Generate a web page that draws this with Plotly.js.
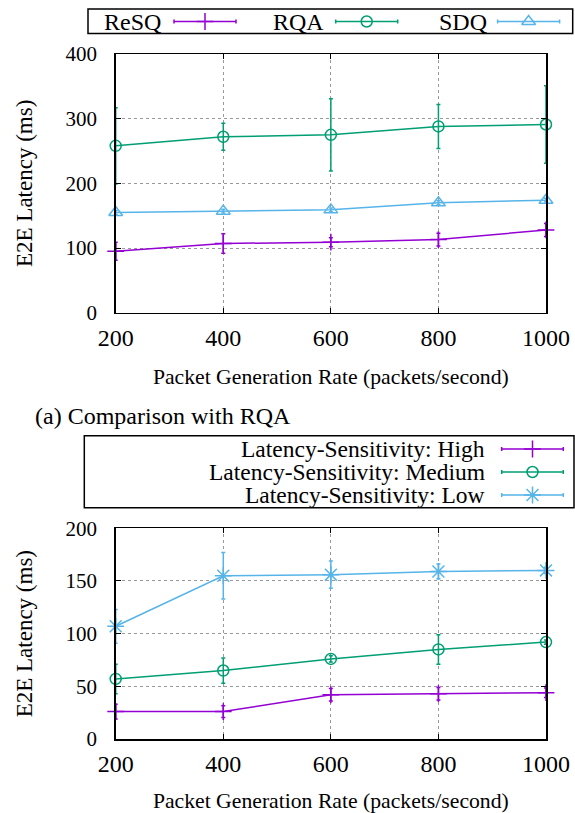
<!DOCTYPE html>
<html>
<head>
<meta charset="utf-8">
<script src="https://cdn.plot.ly/plotly-3.0.1.min.js"></script>
<style>html,body{margin:0;padding:0;background:#fff;}#chart{width:575px;height:813px;}</style>
</head>
<body>
<div id="chart"></div>
<script>
// ---- data ----
const rates = [200, 400, 600, 800, 1000];
const xTickLabels = ['200', '400', '600', '800', '1000'];

// (a) Comparison with RQA
const resqLatency = [95, 107, 109, 113, 128];
const resqErr = [14, 15, 7, 10, 10];
const rqaLatency = [258, 272, 275, 288, 291];
const rqaErr = [59, 21, 56, 34, 60];
const sdqLatency = [155, 157, 159, 170, 174];
const sdqErr = [3, 3, 3, 3, 3];

// (b) Latency sensitivity
const highLatency = [26, 26, 42, 43, 44];
const highErr = [7, 5.5, 6, 6, 4.5];
const mediumLatency = [57, 65, 76, 85, 92];
const mediumErr = [14, 12, 3, 14, 2];
const lowLatency = [107, 155, 156, 159, 160];
const lowErr = [16, 22, 13, 7, 3];

const topNames = ['ReSQ', 'RQA', 'SDQ'];
const bottomNames = ['Latency-Sensitivity: High', 'Latency-Sensitivity: Medium', 'Latency-Sensitivity: Low'];

// ---- styles ----
const W = 575, H = 813;
const PURPLE = '#9400d3', GREEN = '#009e73', BLUE = '#56b4e9';
const FONT = 'Liberation Serif, Times New Roman, serif';

function series(x, y, err, color, symbol, size, xa, ya, name) {
  return {
    type: 'scatter', mode: 'lines+markers', x: x, y: y, name: name,
    xaxis: xa, yaxis: ya, showlegend: false, cliponaxis: false,
    line: {color: color, width: 1.5},
    marker: {symbol: symbol, size: size, color: color, line: {color: color, width: 1.5}},
    error_y: {type: 'data', array: err, visible: true, color: color, thickness: 1.5, width: 2}
  };
}

const traces = [
  series(rates, rqaLatency, rqaErr, GREEN, 'circle-open', 11, 'x', 'y', topNames[1]),
  series(rates, sdqLatency, sdqErr, BLUE, 'triangle-up-open', 12, 'x', 'y', topNames[2]),
  series(rates, resqLatency, resqErr, PURPLE, 'cross-thin-open', 12, 'x', 'y', topNames[0]),
  series(rates, lowLatency, lowErr, BLUE, 'asterisk-open', 14, 'x2', 'y2', bottomNames[2]),
  series(rates, mediumLatency, mediumErr, GREEN, 'circle-open', 11, 'x2', 'y2', bottomNames[1]),
  series(rates, highLatency, highErr, PURPLE, 'cross-thin-open', 12, 'x2', 'y2', bottomNames[0])
];

// legend samples (overlay axis in pixel units)
function sample(cx, cy, half, color, symbol, size) {
  return {
    type: 'scatter', mode: 'markers', x: [cx], y: [cy], xaxis: 'x3', yaxis: 'y3',
    showlegend: false, hoverinfo: 'skip', cliponaxis: false,
    marker: {symbol: symbol, size: size, color: color, line: {color: color, width: 1.5}},
    error_x: {type: 'constant', value: half, color: color, thickness: 1.5, width: 2}
  };
}
const topLegendY = 21.5;
traces.push(sample(205, topLegendY, 31, PURPLE, 'cross-thin-open', 12));
traces.push(sample(366.7, topLegendY, 31, GREEN, 'circle-open', 11));
traces.push(sample(528.6, topLegendY, 31, BLUE, 'triangle-up-open', 12));
const botRows = [449, 472, 495];
traces.push(sample(532.5, botRows[0], 30.8, PURPLE, 'cross-thin-open', 12));
traces.push(sample(532.5, botRows[1], 30.8, GREEN, 'circle-open', 11));
traces.push(sample(532.5, botRows[2], 30.8, BLUE, 'asterisk-open', 14));

const px = v => v / W;
const py = v => 1 - v / H;

const xCommon = {
  domain: [px(115.7), px(546)], range: [200, 1000], tickvals: rates, ticktext: xTickLabels,
  showline: true, mirror: 'ticks', linecolor: '#000', linewidth: 1.5,
  ticks: 'inside', ticklen: 5, tickcolor: '#000', tickwidth: 1,
  showgrid: true, gridcolor: '#999', griddash: 'dot', gridwidth: 1, zeroline: false,
  tickfont: {family: FONT, size: 24, color: '#000'}, ticklabelstandoff: 3,
  title: {text: 'Packet Generation Rate (packets/second)', font: {family: FONT, size: 21.7, color: '#000'}, standoff: 19}
};
const yCommon = {
  showline: true, mirror: 'ticks', linecolor: '#000', linewidth: 1.5,
  ticks: 'inside', ticklen: 5, tickcolor: '#000', tickwidth: 1,
  showgrid: true, gridcolor: '#999', griddash: 'dot', gridwidth: 1, zeroline: false,
  tickfont: {family: FONT, size: 21, color: '#000'}, ticklabelstandoff: 13,
  title: {text: 'E2E Latency (ms)', font: {family: FONT, size: 23, color: '#000'}, standoff: 26}
};

const layout = {
  width: W, height: H, margin: {l: 0, r: 0, t: 0, b: 0},
  paper_bgcolor: '#fff', plot_bgcolor: 'rgba(0,0,0,0)', showlegend: false,
  font: {family: FONT, color: '#000'},
  xaxis: Object.assign({}, xCommon, {anchor: 'y'}),
  yaxis: Object.assign({}, yCommon, {anchor: 'x', domain: [py(312.7), py(54)], range: [0, 400], dtick: 100, tick0: 0}),
  xaxis2: Object.assign({}, xCommon, {anchor: 'y2'}),
  yaxis2: Object.assign({}, yCommon, {anchor: 'x2', domain: [py(739), py(528.3)], range: [0, 200], dtick: 50, tick0: 0}),
  xaxis3: {domain: [0, 1], range: [0, W], visible: false, fixedrange: true, anchor: 'y3'},
  yaxis3: {domain: [0, 1], range: [H, 0], visible: false, fixedrange: true, anchor: 'x3'},
  shapes: [
    {type: 'rect', xref: 'x3', yref: 'y3', x0: 88, x1: 572.7, y0: 9, y1: 33.5, line: {color: '#000', width: 1.5}},
    {type: 'rect', xref: 'x3', yref: 'y3', x0: 84.3, x1: 574, y0: 435.7, y1: 507.7, line: {color: '#000', width: 1.5}}
  ],
  annotations: [
    {xref: 'x3', yref: 'y3', x: 102, y: topLegendY, xanchor: 'left', yanchor: 'middle', showarrow: false, text: topNames[0], font: {family: FONT, size: 24}},
    {xref: 'x3', yref: 'y3', x: 271.4, y: topLegendY, xanchor: 'left', yanchor: 'middle', showarrow: false, text: topNames[1], font: {family: FONT, size: 24}},
    {xref: 'x3', yref: 'y3', x: 436.5, y: topLegendY, xanchor: 'left', yanchor: 'middle', showarrow: false, text: topNames[2], font: {family: FONT, size: 24}},
    {xref: 'x3', yref: 'y3', x: 487, y: botRows[0], xanchor: 'right', yanchor: 'middle', showarrow: false, text: bottomNames[0], font: {family: FONT, size: 23.5}},
    {xref: 'x3', yref: 'y3', x: 487, y: botRows[1], xanchor: 'right', yanchor: 'middle', showarrow: false, text: bottomNames[1], font: {family: FONT, size: 23.5}},
    {xref: 'x3', yref: 'y3', x: 487, y: botRows[2], xanchor: 'right', yanchor: 'middle', showarrow: false, text: bottomNames[2], font: {family: FONT, size: 23.5}},
    {xref: 'x3', yref: 'y3', x: 33, y: 416, xanchor: 'left', yanchor: 'middle', showarrow: false, text: '(a) Comparison with RQA', font: {family: FONT, size: 24}}
  ]
};

Plotly.newPlot('chart', traces, layout, {staticPlot: true, displayModeBar: false});
</script>
</body>
</html>
